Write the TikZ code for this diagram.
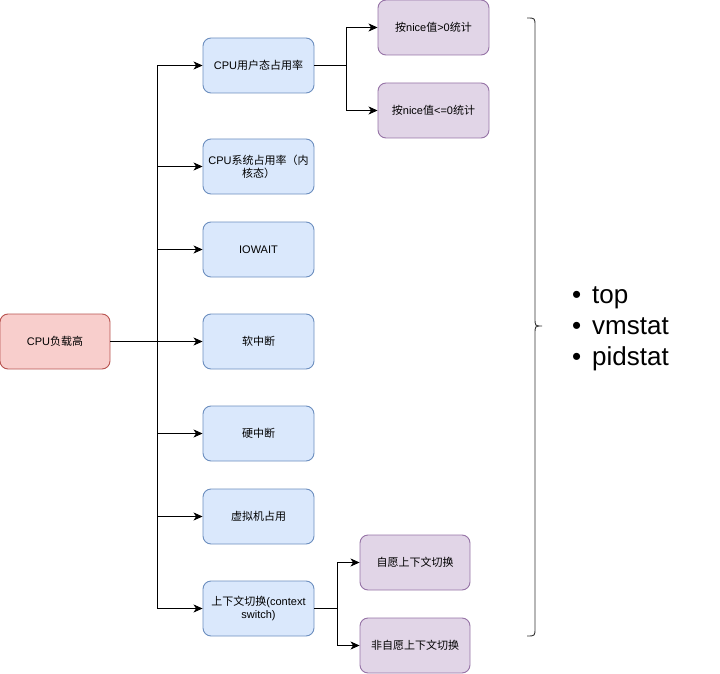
\documentclass[tikz,border=0pt]{standalone}
\usepackage{fontspec}
\setmainfont{Liberation Sans}
\newfontfamily\cjk{Noto Sans CJK SC}
\usetikzlibrary{arrows.meta}
\definecolor{redfill}{HTML}{F8CECC}
\definecolor{redline}{HTML}{B85450}
\definecolor{bluefill}{HTML}{DAE8FC}
\definecolor{blueline}{HTML}{6C8EBF}
\definecolor{purfill}{HTML}{E1D5E7}
\definecolor{purline}{HTML}{9673A6}
\newcommand{\itm}[1]{\makebox[20pt][l]{•}#1}
\tikzset{
  box/.style={draw, line width=0.9pt, rounded corners=8pt, minimum height=55pt, align=center,
    font=\fontsize{11}{13}\selectfont, inner sep=2pt},
  rootbox/.style={box, fill=redfill, draw=redline, minimum width=110pt},
  bluebox/.style={box, fill=bluefill, draw=blueline, minimum width=111pt, text width=105pt},
  purbox/.style={box, fill=purfill, draw=purline, minimum width=111pt},
  conn/.style={line width=0.9pt, draw=black},
  arr/.style={conn, -{Stealth[length=9pt,width=8pt,inset=2.5pt]}},
}
\begin{document}
\begin{tikzpicture}[x=1pt,y=-1pt]
\useasboundingbox (0,0) rectangle (720,674);
\node[rootbox] (root) at (55,341.5) {CPU{\cjk 负载高}};
\node[bluebox] (n1) at (258.5,65.5) {CPU{\cjk 用户态占用率}};
\node[bluebox] (n2) at (258.5,166.5) {CPU{\cjk 系统占用率（内}\\{\cjk 核态）}};
\node[bluebox] (n3) at (258.5,249.5) {IOWAIT};
\node[bluebox] (n4) at (258.5,341.5) {{\cjk 软中断}};
\node[bluebox] (n5) at (258.5,433.5) {{\cjk 硬中断}};
\node[bluebox] (n6) at (258.5,516.5) {{\cjk 虚拟机占用}};
\node[bluebox] (n7) at (258.5,608.5) {{\cjk 上下文切换}(context\\switch)};
\node[purbox] (p1) at (433.5,27.5) {{\cjk 按}nice{\cjk 值}>0{\cjk 统计}};
\node[purbox] (p2) at (433.5,110.5) {{\cjk 按}nice{\cjk 值}<=0{\cjk 统计}};
\node[purbox, minimum width=110pt] (p3) at (415,562.5) {{\cjk 自愿上下文切换}};
\node[purbox, minimum width=110pt] (p4) at (415,645.5) {{\cjk 非自愿上下文切换}};
\coordinate (trunk) at (157,341.5);
\coordinate (ub) at (346,65.5);
\coordinate (cb) at (337,608.5);
\draw[conn] (root.east) -- (trunk);
\foreach \n in {n1,n2,n3,n4,n5,n6,n7} \draw[arr] (trunk) |- (\n.west);
\draw[conn] (n1.east) -- (ub);
\draw[arr] (ub) |- (p1.west);
\draw[arr] (ub) |- (p2.west);
\draw[conn] (n7.east) -- (cb);
\draw[arr] (cb) |- (p3.west);
\draw[arr] (cb) |- (p4.west);
\coordinate (bt) at (527,18);
\coordinate (bb) at (527,636);
\draw[line width=0.9pt, draw=black!80] (bt) .. controls (535,18) .. (535,26) -- (535,318)
  .. controls (535,326) .. (542,326) .. controls (535,326) .. (535,334) -- (535,628)
  .. controls (535,636) .. (bb);
\node[anchor=west, align=left, font=\fontsize{26}{31}\selectfont, inner sep=0pt] (tools) at (572,329)
  {\itm{top}\\ \itm{vmstat}\\ \itm{pidstat}};
\end{tikzpicture}
\end{document}
